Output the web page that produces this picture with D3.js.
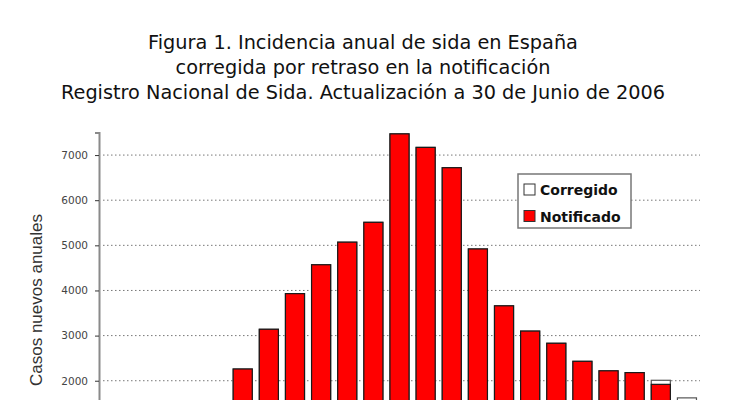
<!DOCTYPE html>
<html>
<head>
<meta charset="utf-8">
<script src="https://cdn.jsdelivr.net/npm/d3@7"></script>
<style>
  html, body { margin: 0; padding: 0; background: #fff; }
  svg { display: block; overflow: hidden; }
</style>
</head>
<body>
<svg id="chart" width="730" height="400"></svg>
<script>
// ---- data ----
const years = [1983, 1984, 1985, 1986, 1987, 1988, 1989, 1990, 1991, 1992, 1993, 1994,
               1995, 1996, 1997, 1998, 1999, 2000, 2001, 2002, 2003, 2004, 2005];
const notificado = [20, 70, 230, 580, 1250, 2260, 3140, 3930, 4570, 5070, 5510, 7470,
                    7170, 6720, 4920, 3660, 3100, 2830, 2430, 2220, 2180, 1920, 1300];
const corregido  = [20, 70, 230, 580, 1250, 2260, 3140, 3930, 4570, 5070, 5510, 7470,
                    7170, 6720, 4920, 3660, 3100, 2830, 2430, 2220, 2180, 2010, 1620];
const yTicks = [2000, 3000, 4000, 5000, 6000, 7000];
const titleLines = [
  "Figura 1. Incidencia anual de sida en España",
  "corregida por retraso en la notificación",
  "Registro Nacional de Sida. Actualización a 30 de Junio de 2006"
];
const yTitle = "Casos nuevos anuales";
const legendItems = [
  { label: "Corregido", fill: "#ffffff" },
  { label: "Notificado", fill: "#ff0000" }
];

// ---- layout ----
const svg = d3.select("#chart");
const plotLeft = 99, plotRight = 700, plotTop = 132.5, plotBottom = 471;

const x = d3.scaleBand().domain(years).range([plotLeft, plotRight])
  .paddingInner(0.27).paddingOuter(0.135);
const y = d3.scaleLinear().domain([0, 7500]).range([plotBottom, plotTop]);

// title
svg.append("g").selectAll("text").data(titleLines).join("text")
  .attr("x", 363)
  .attr("y", (d, i) => 49 + i * 25)
  .attr("text-anchor", "middle")
  .attr("font-family", "DejaVu Sans, Verdana, sans-serif")
  .attr("font-size", 19.3)
  .attr("fill", "#111")
  .text(d => d);

// gridlines
svg.append("g").selectAll("line").data(yTicks).join("line")
  .attr("x1", plotLeft + 4).attr("x2", plotRight)
  .attr("y1", d => y(d)).attr("y2", d => y(d))
  .attr("stroke", "#777").attr("stroke-width", 1)
  .attr("stroke-dasharray", "1.5,2.5");

// bars: corrected (white) behind, notified (red) in front
const bars = svg.append("g");
bars.selectAll("rect.corr").data(years).join("rect")
  .attr("class", "corr")
  .attr("x", d => x(d))
  .attr("width", x.bandwidth())
  .attr("y", (d, i) => y(corregido[i]))
  .attr("height", (d, i) => y(0) - y(corregido[i]))
  .attr("fill", "#fff").attr("stroke", "#555").attr("stroke-width", 1.2);
bars.selectAll("rect.noti").data(years).join("rect")
  .attr("class", "noti")
  .attr("x", d => x(d))
  .attr("width", x.bandwidth())
  .attr("y", (d, i) => y(notificado[i]))
  .attr("height", (d, i) => y(0) - y(notificado[i]))
  .attr("fill", "#ff0000").attr("stroke", "#1a1a1a").attr("stroke-width", 1.2);

// y axis
const yAxis = d3.axisLeft(y).tickValues(yTicks).tickSize(4).tickPadding(7)
  .tickFormat(d3.format("d"));
const yg = svg.append("g").attr("transform", `translate(${plotLeft},0)`).call(yAxis);
yg.select(".domain").attr("stroke", "#8a8a8a").attr("stroke-width", 2);
yg.selectAll(".tick line").attr("stroke", "#333");
yg.selectAll(".tick text")
  .attr("font-family", "DejaVu Sans, sans-serif")
  .attr("font-size", 10.5)
  .attr("fill", "#444");

// y title
svg.append("text")
  .attr("transform", "translate(42,300) rotate(-90)")
  .attr("text-anchor", "middle")
  .attr("font-family", "Liberation Sans, Arial, sans-serif")
  .attr("font-size", 17)
  .attr("fill", "#333")
  .text(yTitle);

// legend
const lg = svg.append("g");
lg.append("rect").attr("x", 518).attr("y", 174).attr("width", 113).attr("height", 54)
  .attr("fill", "#fff").attr("stroke", "#777").attr("stroke-width", 1.5);
const li = lg.selectAll("g.item").data(legendItems).join("g")
  .attr("class", "item")
  .attr("transform", (d, i) => `translate(524,${184 + i * 26.5})`);
li.append("rect").attr("width", 11).attr("height", 11)
  .attr("fill", d => d.fill).attr("stroke", "#333").attr("stroke-width", 1);
li.append("text").attr("x", 16).attr("y", 11)
  .attr("font-family", "DejaVu Sans, Verdana, sans-serif")
  .attr("font-weight", "bold")
  .attr("font-size", 14)
  .attr("fill", "#111")
  .text(d => d.label);
</script>
</body>
</html>
